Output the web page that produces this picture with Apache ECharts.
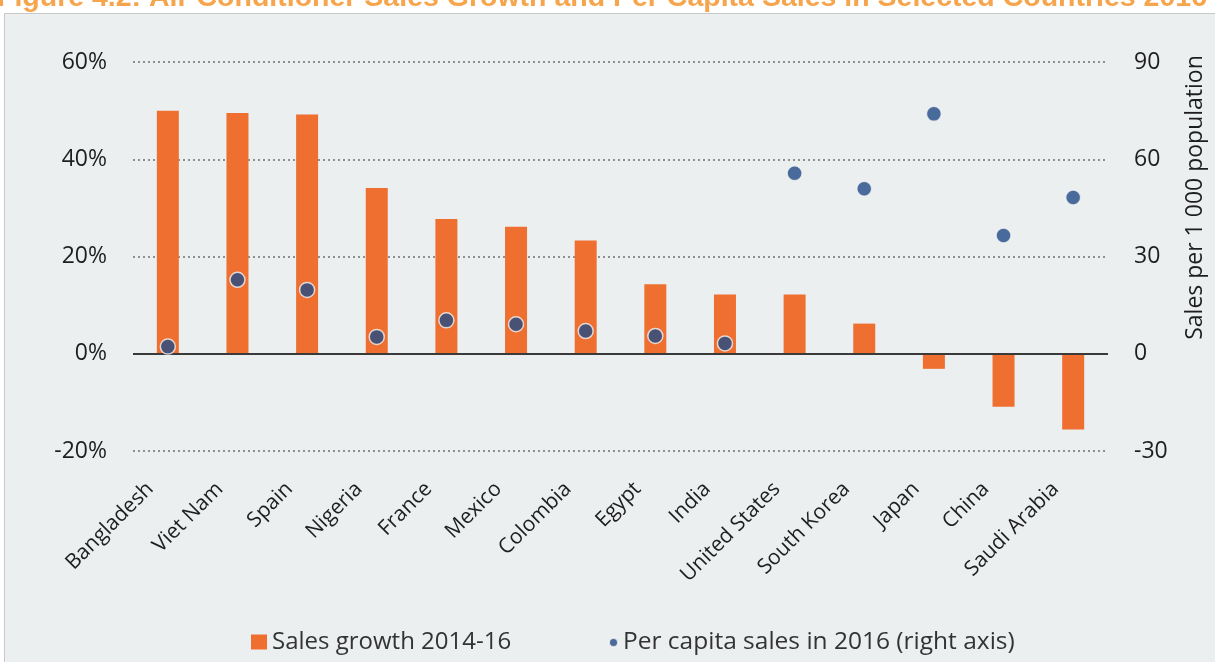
<!DOCTYPE html>
<html>
<head>
<meta charset="utf-8">
<script src="https://cdn.jsdelivr.net/npm/echarts@6/dist/echarts.min.js"></script>
<style>
  html, body { margin: 0; padding: 0; background: #fff; }
  #frame {
    position: absolute; left: 4px; top: 13px; width: 1215px; height: 660px;
    background: #eceff0; border-left: 1px solid #c9c9c9; border-top: 1px solid #c9c9c9;
  }
  #chart { position: absolute; left: 0; top: 0; width: 1215px; height: 662px; }
</style>
</head>
<body>
<div id="frame"></div>
<div id="chart"></div>
<script>
// countries, left to right
const countries = [
  "Bangladesh", "Viet Nam", "Spain", "Nigeria", "France", "Mexico", "Colombia",
  "Egypt", "India", "United States", "South Korea", "Japan", "China", "Saudi Arabia"
];
// sales growth 2014-16 (%)
const salesGrowth = [50, 49.5, 49.2, 34.1, 27.7, 26.1, 23.3, 14.3, 12.2, 12.2, 6.2, -3.1, -10.9, -15.6];
// per capita sales in 2016, sales per 1 000 population (right axis)
const perCapita = [2.2, 22.8, 19.7, 5.2, 10.3, 9.1, 7.0, 5.5, 3.2, 55.7, 50.9, 74, 36.5, 48.2];

const leftTicks = { min: -20, max: 60, interval: 20 };
const rightTicks = { min: -30, max: 90, interval: 30 };

const orange = "#ee6f2f";
const navy = "#1f4a86";
const font = "Open Sans";
const textColor = "#1e1e1e";

const chart = echarts.init(document.getElementById("chart"));
chart.setOption({
  textStyle: { fontFamily: font },
  title: {
    text: "Figure 4.2: Air Conditioner Sales Growth and Per Capita Sales in Selected Countries 2016",
    left: -8,
    top: -21,
    textStyle: { color: "#f7a54c", fontSize: 28.5, fontWeight: "bold", fontFamily: "Liberation Sans" }
  },
  legend: [
    {
      data: ["Sales growth 2014-16"],
      left: 246,
      top: 625,
      icon: "rect",
      itemWidth: 16,
      itemHeight: 15,
      itemGap: 6,
      textStyle: { fontSize: 24, color: "#333", fontFamily: font }
    },
    {
      data: ["Per capita sales in 2016 (right axis)"],
      left: 603,
      top: 625,
      icon: "circle",
      itemWidth: 9,
      itemHeight: 9,
      textStyle: { fontSize: 24.5, color: "#333", fontFamily: font }
    }
  ],
  grid: { left: 133, right: 106, top: 62, bottom: 211 },
  xAxis: {
    type: "category",
    data: countries,
    axisLine: { show: false },
    axisTick: { show: false },
    axisLabel: {
      interval: 0,
      rotate: 45,
      margin: 17,
      padding: [0, 25, 0, 0],
      fontSize: 21,
      color: textColor
    }
  },
  yAxis: [
    {
      type: "value",
      min: leftTicks.min,
      max: leftTicks.max,
      interval: leftTicks.interval,
      axisLine: { show: false },
      axisTick: { show: false },
      axisLabel: { formatter: "{value}%", fontSize: 23, color: textColor, margin: 26 },
      splitLine: { lineStyle: { type: [2, 3], color: "#8f8f8f", width: 2 } }
    },
    {
      type: "value",
      min: rightTicks.min,
      max: rightTicks.max,
      interval: rightTicks.interval,
      position: "right",
      name: "Sales per 1 000 population",
      nameLocation: "middle",
      nameRotate: 90,
      nameGap: 76,
      nameTextStyle: { fontSize: 23, color: textColor, padding: [0, 0, 0, 118] },
      axisLine: { show: false },
      axisTick: { show: false },
      axisLabel: { fontSize: 23, color: textColor, margin: 26 },
      splitLine: { show: false }
    }
  ],
  series: [
    {
      name: "Sales growth 2014-16",
      type: "bar",
      data: salesGrowth,
      barWidth: 22,
      itemStyle: { color: orange },
      markLine: {
        silent: true,
        symbol: "none",
        label: { show: false },
        lineStyle: { type: "solid", color: "#3a3a3a", width: 2 },
        data: [{ yAxis: 0 }]
      }
    },
    {
      name: "Per capita sales in 2016 (right axis)",
      type: "scatter",
      yAxisIndex: 1,
      data: perCapita,
      symbolSize: 15,
      itemStyle: { color: navy, borderColor: "#f4f4f4", borderWidth: 1.5 },
      z: 5
    }
  ]
});
</script>
</body>
</html>
